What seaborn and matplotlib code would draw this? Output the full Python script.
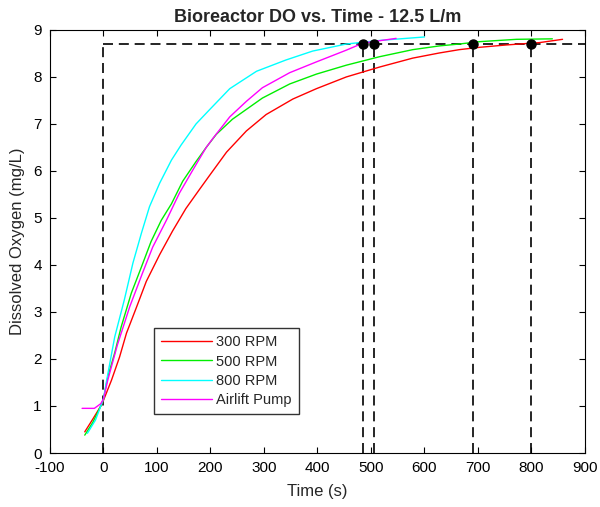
import pandas as pd
import matplotlib
matplotlib.use("Agg")
import matplotlib.pyplot as plt
import seaborn as sns

# DO readings (mg/L) vs time (s)
t_300 = [-35, -20, -5, 0, 15, 30, 43, 61, 80, 105, 129, 154, 179, 198, 230, 267,
         304, 354, 398, 454, 516, 578, 628, 665, 703, 753, 815, 858]
do_300 = [0.45, 0.72, 1.0, 1.12, 1.55, 2.04, 2.55, 3.08, 3.65, 4.22, 4.72, 5.2, 5.6, 5.9,
          6.4, 6.85, 7.2, 7.53, 7.75, 8.0, 8.21, 8.4, 8.51, 8.58, 8.63, 8.68, 8.73, 8.8]

t_500 = [-35, -20, -5, 0, 8, 21, 33, 52, 71, 89, 108, 127, 148, 173, 192, 211, 241,
         297, 348, 398, 454, 516, 578, 628, 665, 703, 772, 839]
do_500 = [0.38, 0.65, 1.0, 1.15, 1.62, 2.13, 2.68, 3.4, 3.96, 4.5, 4.95, 5.3, 5.78, 6.2,
          6.5, 6.78, 7.1, 7.55, 7.85, 8.06, 8.25, 8.43, 8.58, 8.66, 8.7, 8.75, 8.8, 8.81]

t_800 = [-30, -15, 0, 6, 21, 39, 55, 71, 86, 105, 127, 145, 173, 198, 236, 286, 341,
         391, 454, 520, 600]
do_800 = [0.42, 0.7, 1.15, 1.55, 2.47, 3.26, 4.04, 4.68, 5.24, 5.74, 6.23, 6.55, 7.0,
          7.3, 7.75, 8.12, 8.36, 8.55, 8.7, 8.78, 8.85]

t_air = [-40, -17, -5, 0, 8, 26, 49, 73, 92, 118, 142, 167, 192, 205, 236, 267, 297,
         348, 398, 454, 485, 547]
do_air = [0.95, 0.95, 1.05, 1.15, 1.55, 2.3, 3.11, 3.83, 4.38, 4.96, 5.53, 6.02, 6.5,
          6.7, 7.15, 7.48, 7.77, 8.09, 8.32, 8.57, 8.72, 8.82]

labels = ['300 RPM', '500 RPM', '800 RPM', 'Airlift Pump']
colors = ['#ff0000', '#00ee00', '#00ffff', '#ff00ff']

# saturation level and the times each run reaches it
do_sat = 8.7
t_sat = [485, 505, 690, 800]

frames = []
for lab, t, d in zip(labels, [t_300, t_500, t_800, t_air], [do_300, do_500, do_800, do_air]):
    frames.append(pd.DataFrame({'time': t, 'do': d, 'series': lab}))
df = pd.concat(frames, ignore_index=True)

sns.set_style("ticks")
plt.rcParams['font.family'] = ['Liberation Sans', 'DejaVu Sans']
plt.rcParams['axes.unicode_minus'] = False

fig = plt.figure(figsize=(6, 5.07), dpi=100)
ax = fig.add_axes([0.0833, 0.1065, 0.975 - 0.0833, 0.941 - 0.1065])

sns.lineplot(data=df, x='time', y='do', hue='series', palette=dict(zip(labels, colors)),
             estimator=None, sort=False, lw=1.0, ax=ax)

# dashed guide lines
dash = dict(color='black', ls=(0, (6, 3.5)), lw=1.2, zorder=1)
ax.plot([0, 900], [do_sat, do_sat], **dash)
for tv in [0] + t_sat:
    ax.plot([tv, tv], [0, do_sat], **dash)
ax.plot(t_sat, [do_sat] * len(t_sat), 'o', color='black', ms=6.5, zorder=5)

ax.set_xlim(-100, 900)
ax.set_ylim(0, 9)
ax.set_xticks(range(-100, 901, 100))
ax.set_yticks(range(0, 10))
ax.tick_params(direction='in', top=True, right=True, length=4, width=0.8,
               labelsize=11, colors='black')
ax.tick_params(axis='x', pad=6)
ax.tick_params(axis='y', pad=6)
for s in ax.spines.values():
    s.set_visible(True)
    s.set_linewidth(0.8)
    s.set_color('black')

ax.set_title("Bioreactor DO vs. Time - 12.5 L/m", fontsize=13, fontweight='bold', pad=6)
ax.set_xlabel("Time (s)", fontsize=12, labelpad=6)
ax.set_ylabel("Dissolved Oxygen (mg/L)", fontsize=12, labelpad=6)

leg = ax.legend(loc='lower left', bbox_to_anchor=(0.194, 0.092), fontsize=10.5,
                frameon=True, fancybox=False, edgecolor='#333333', framealpha=1,
                handlelength=3.5, handletextpad=0.3, labelspacing=0.35, borderpad=0.5,
                borderaxespad=0)
leg.get_frame().set_linewidth(1.0)

fig.savefig('out.png', dpi=100)
